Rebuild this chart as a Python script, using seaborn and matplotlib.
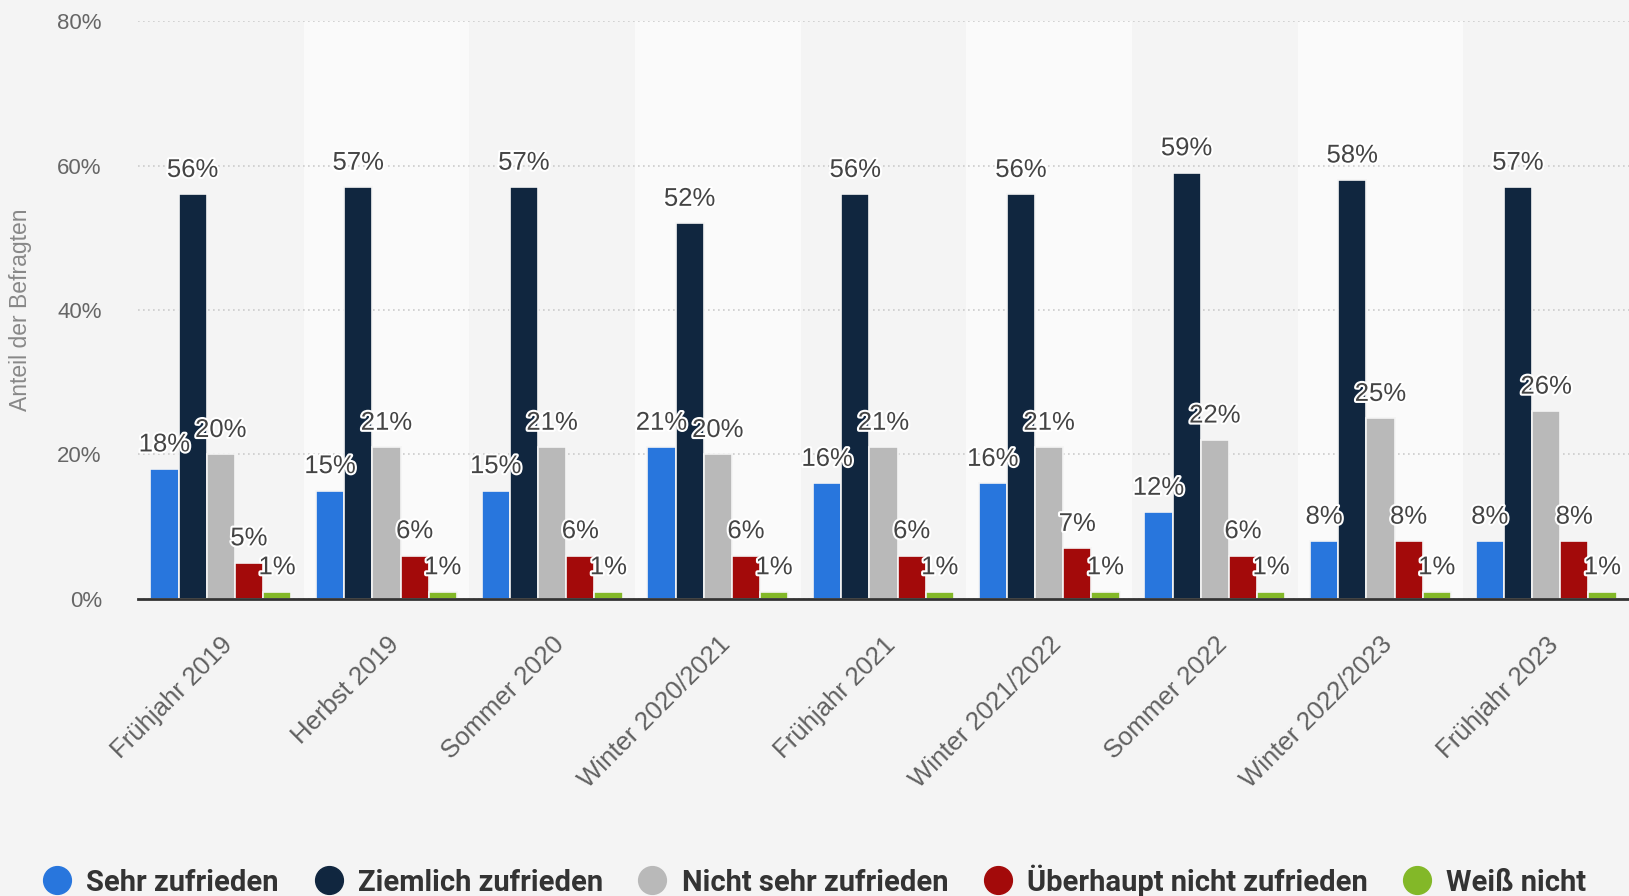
import pandas as pd
import numpy as np
import matplotlib.pyplot as plt
import seaborn as sns
import matplotlib.patheffects as pe
from matplotlib.lines import Line2D

categories = ["Frühjahr 2019", "Herbst 2019", "Sommer 2020", "Winter 2020/2021",
              "Frühjahr 2021", "Winter 2021/2022", "Sommer 2022", "Winter 2022/2023",
              "Frühjahr 2023"]
series = ["Sehr zufrieden", "Ziemlich zufrieden", "Nicht sehr zufrieden",
          "Überhaupt nicht zufrieden", "Weiß nicht"]
sehr = [18, 15, 15, 21, 16, 16, 12, 8, 8]
ziemlich = [56, 57, 57, 52, 56, 56, 59, 58, 57]
nicht_sehr = [20, 21, 21, 20, 21, 21, 22, 25, 26]
ueberhaupt = [5, 6, 6, 6, 6, 7, 6, 8, 8]
weiss_nicht = [1, 1, 1, 1, 1, 1, 1, 1, 1]
colors = ["#2876dd", "#10263f", "#b9b9b9", "#a30a0a", "#83b828"]

rows = []
for name, vals in zip(series, [sehr, ziemlich, nicht_sehr, ueberhaupt, weiss_nicht]):
    for cat, v in zip(categories, vals):
        rows.append({"Zeitraum": cat, "Antwort": name, "Anteil": v})
df = pd.DataFrame(rows)

bg = "#f4f4f4"
sns.set_style("white")
plt.rcParams["font.family"] = ["Liberation Sans", "DejaVu Sans"]

fig = plt.figure(figsize=(16.29, 8.96), dpi=100, facecolor=bg)
ax = fig.add_axes([0.0847, 0.3315, 0.9153, 0.645])
ax.set_facecolor(bg)

# alternating column bands
for i in range(len(categories)):
    if i % 2 == 1:
        ax.axvspan(i - 0.5, i + 0.5, color="#fafafa", zorder=0, lw=0)

sns.barplot(data=df, x="Zeitraum", y="Anteil", hue="Antwort", order=categories,
            hue_order=series, palette=colors, width=0.85, ax=ax,
            edgecolor=bg, linewidth=1.2, saturation=1, legend=False, zorder=3)

for cont in ax.containers:
    labels = ax.bar_label(cont, fmt="%d%%", padding=9, fontsize=18.5, color="#444444",
                          zorder=5)
    for t in labels:
        t.set_path_effects([pe.withStroke(linewidth=3, foreground="white")])

ax.set_xlim(-0.5, len(categories) - 0.5)
ax.set_ylim(0, 80)
ax.set_yticks([0, 20, 40, 60, 80])
ax.set_yticklabels([f"{v}%" for v in [0, 20, 40, 60, 80]])
ax.yaxis.grid(True, linestyle=(0, (1, 2)), color="#cccccc", linewidth=1.2, zorder=1)
ax.set_axisbelow(True)
ax.tick_params(axis="y", length=0, pad=26, labelsize=16, labelcolor="#666666")
ax.tick_params(axis="x", length=0, pad=24, labelsize=18.5, labelcolor="#606060")
plt.setp(ax.get_xticklabels(), rotation=45, ha="right", rotation_mode="anchor")

for s in ["top", "right", "left"]:
    ax.spines[s].set_visible(False)
ax.spines["bottom"].set_color("#333333")
ax.spines["bottom"].set_linewidth(2)
ax.spines["bottom"].set_zorder(6)

ax.set_xlabel("")
ax.set_ylabel("Anteil der Befragten", fontsize=16.5, color="#888888")
ax.yaxis.set_label_coords(-0.071, 0.5)

handles = [Line2D([0], [0], marker="o", linestyle="", markersize=20,
                  markerfacecolor=c, markeredgecolor=c) for c in colors]
fig.legend(handles, series, loc="lower center", bbox_to_anchor=(0.5, -0.03),
           ncol=5, frameon=False, handlelength=1.0, handletextpad=0.5,
           columnspacing=1.2,
           prop={"family": ["Liberation Sans Narrow", "Roboto", "DejaVu Sans"],
                 "weight": "bold", "size": 21}, labelcolor="#333333")

plt.savefig("out.png", dpi=100, facecolor=bg)
